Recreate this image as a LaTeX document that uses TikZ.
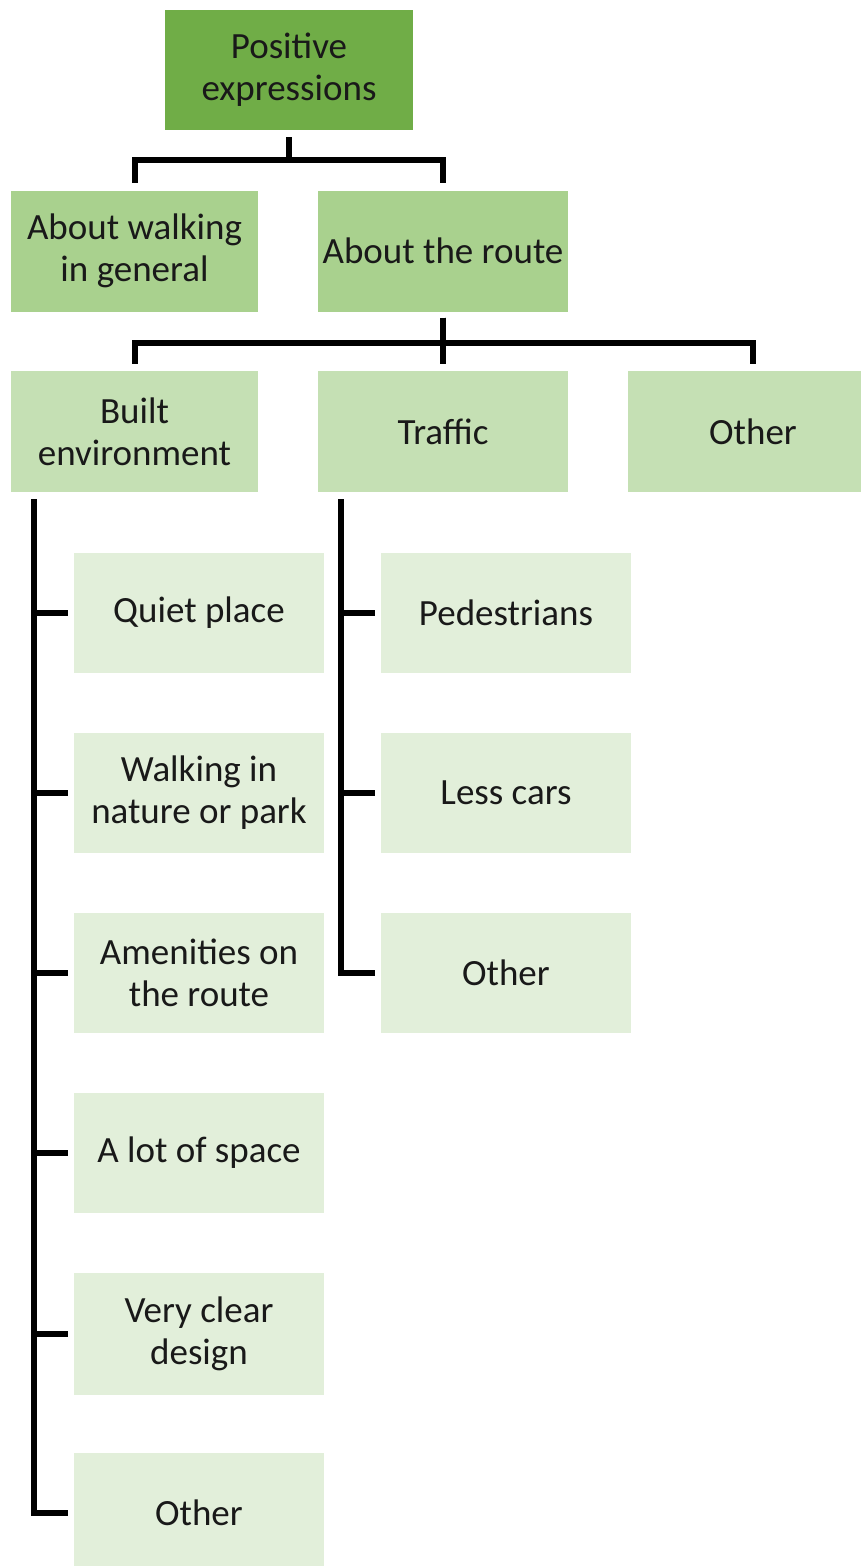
\documentclass[tikz,border=0pt]{standalone}
\usepackage{fontspec}
\setmainfont{Carlito}
\usetikzlibrary{positioning, calc}
\usepackage{xcolor}
\definecolor{gdark}{HTML}{70AD47}
\definecolor{gmid}{HTML}{A9D18E}
\definecolor{glight}{HTML}{C5E0B4}
\definecolor{gpale}{HTML}{E2EFDA}

\begin{document}
\begin{tikzpicture}[x=1pt, y=-1pt,
    box/.style={inner sep=0pt, minimum width=250pt, minimum height=121pt,
                align=center, text=black!90, font=\fontsize{37}{42}\selectfont},
    conn/.style={line width=6pt, draw=black}]
  \useasboundingbox (0,0) rectangle (860,1566);
  % top levels
  \node[box, fill=gdark, minimum width=248pt, minimum height=120pt] (root) at (289,70) {Positive\\expressions};
  \node[box, fill=gmid, minimum width=247pt] (walk) at (134.5,251) {About walking\\in general};
  \node[box, fill=gmid] (route) at (443,251) {About the route};
  \node[box, fill=glight, minimum width=247pt] (built) at (134.5,431.5) {Built\\environment};
  \node[box, fill=glight] (traffic) at (443,431.5) {Traffic};
  \node[box, fill=glight] (other) at (753,431.5) {Other};
  % built environment items
  \node[box, fill=gpale, minimum height=120pt] (quiet) at (199,613) {Quiet place};
  \node[box, fill=gpale, minimum height=120pt] (nature) at (199,793) {Walking in\\nature or park};
  \node[box, fill=gpale, minimum height=120pt] (amen) at (199,973) {Amenities on\\the route};
  \node[box, fill=gpale, minimum height=120pt] (space) at (199,1153) {A lot of space};
  \node[box, fill=gpale, minimum height=122pt] (design) at (199,1334) {Very clear\\design};
  \node[box, fill=gpale, minimum height=120pt] (bother) at (199,1513) {Other};
  % traffic items
  \node[box, fill=gpale, minimum height=120pt] (pedes) at (506,613) {Pedestrians};
  \node[box, fill=gpale, minimum height=120pt] (cars) at (506,793) {Less cars};
  \node[box, fill=gpale, minimum height=120pt] (tother) at (506,973) {Other};
  % connectors
  \draw[conn] ([yshift=-7pt]root.south) -- ++(0,-23pt) -| ([yshift=7pt]walk.north);
  \draw[conn] ([yshift=-7pt]root.south) -- ++(0,-23pt) -| ([yshift=7pt]route.north);
  \foreach \n in {built,traffic,other}
    \draw[conn] ([yshift=-6pt]route.south) -- ++(0,-25pt) -| ([yshift=7pt]\n.north);
  \foreach \n in {quiet,nature,amen,space,design,bother}
    \draw[conn] ([xshift=23pt,yshift=-7pt]built.south west) |- ([xshift=-6pt]\n.west);
  \foreach \n in {pedes,cars,tother}
    \draw[conn] ([xshift=23pt,yshift=-7pt]traffic.south west) |- ([xshift=-6pt]\n.west);
\end{tikzpicture}
\end{document}
